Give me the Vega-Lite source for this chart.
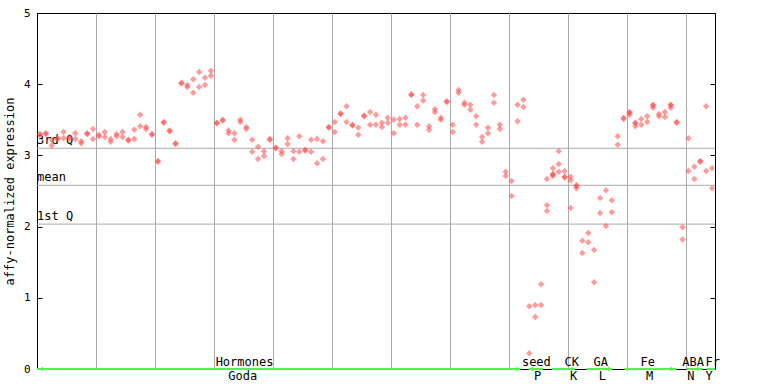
{
  "$schema": "https://vega.github.io/schema/vega-lite/v6.json",
  "width": 678,
  "height": 356,
  "autosize": {"type": "none"},
  "padding": {"left": 37, "top": 13, "right": 53, "bottom": 15},
  "background": "white",
  "config": {
    "view": {"stroke": "black", "strokeWidth": 1},
    "font": "DejaVu Sans Mono",
    "axis": {"labelFont": "DejaVu Sans Mono", "titleFont": "DejaVu Sans Mono", "labelColor": "black", "titleColor": "black"}
  },
  "resolve": {"axis": {"y": "independent"}},
  "datasets": {
    "pts": [
      {"i":0,"v":3.30},{"i":0,"v":3.29},{"i":1,"v":3.31},{"i":1,"v":3.30},{"i":2,"v":3.22},{"i":2,"v":3.14},
      {"i":3,"v":3.24},{"i":3,"v":3.23},{"i":4,"v":3.33},{"i":4,"v":3.24},{"i":5,"v":3.26},{"i":5,"v":3.23},
      {"i":6,"v":3.31},{"i":6,"v":3.23},{"i":7,"v":3.20},{"i":7,"v":3.17},{"i":8,"v":3.31},{"i":8,"v":3.30},
      {"i":9,"v":3.37},{"i":9,"v":3.23},{"i":10,"v":3.29},{"i":10,"v":3.27},{"i":11,"v":3.33},{"i":11,"v":3.26},
      {"i":12,"v":3.23},{"i":12,"v":3.19},{"i":13,"v":3.30},{"i":13,"v":3.27},{"i":14,"v":3.33},{"i":14,"v":3.26},
      {"i":15,"v":3.22},{"i":15,"v":3.21},{"i":16,"v":3.36},{"i":16,"v":3.23},{"i":17,"v":3.57},{"i":17,"v":3.41},
      {"i":18,"v":3.40},{"i":18,"v":3.37},{"i":19,"v":3.30},{"i":19,"v":3.29},{"i":20,"v":2.92},{"i":20,"v":2.91},
      {"i":21,"v":3.47},{"i":21,"v":3.46},{"i":22,"v":3.35},{"i":22,"v":3.34},{"i":23,"v":3.17},{"i":23,"v":3.16},
      {"i":24,"v":4.02},{"i":24,"v":4.01},{"i":25,"v":3.99},{"i":25,"v":3.96},{"i":26,"v":4.07},{"i":26,"v":3.88},
      {"i":27,"v":4.17},{"i":27,"v":3.96},{"i":28,"v":4.09},{"i":28,"v":3.99},{"i":29,"v":4.19},{"i":29,"v":4.12},
      {"i":30,"v":3.46},{"i":30,"v":3.45},{"i":31,"v":3.50},{"i":31,"v":3.49},{"i":32,"v":3.35},{"i":32,"v":3.31},
      {"i":33,"v":3.31},{"i":33,"v":3.22},{"i":34,"v":3.50},{"i":34,"v":3.47},{"i":35,"v":3.40},{"i":35,"v":3.37},
      {"i":36,"v":3.22},{"i":36,"v":3.05},{"i":37,"v":3.12},{"i":37,"v":2.95},{"i":38,"v":3.06},{"i":38,"v":2.99},
      {"i":39,"v":3.23},{"i":39,"v":3.22},{"i":40,"v":3.11},{"i":40,"v":3.10},{"i":41,"v":3.06},{"i":41,"v":3.02},
      {"i":42,"v":3.24},{"i":42,"v":3.16},{"i":43,"v":3.06},{"i":43,"v":2.95},{"i":44,"v":3.27},{"i":44,"v":3.05},
      {"i":45,"v":3.08},{"i":45,"v":3.07},{"i":46,"v":3.22},{"i":46,"v":3.05},{"i":47,"v":3.23},{"i":47,"v":2.89},
      {"i":48,"v":3.20},{"i":48,"v":2.95},{"i":49,"v":3.40},{"i":49,"v":3.39},{"i":50,"v":3.47},{"i":50,"v":3.33},
      {"i":51,"v":3.59},{"i":51,"v":3.58},{"i":52,"v":3.69},{"i":52,"v":3.47},{"i":53,"v":3.43},{"i":53,"v":3.42},
      {"i":54,"v":3.39},{"i":54,"v":3.29},{"i":55,"v":3.56},{"i":55,"v":3.55},{"i":56,"v":3.61},{"i":56,"v":3.43},
      {"i":57,"v":3.57},{"i":57,"v":3.43},{"i":58,"v":3.46},{"i":58,"v":3.40},{"i":59,"v":3.53},{"i":59,"v":3.46},
      {"i":60,"v":3.50},{"i":60,"v":3.31},{"i":61,"v":3.51},{"i":61,"v":3.43},{"i":62,"v":3.53},{"i":62,"v":3.43},
      {"i":63,"v":3.86},{"i":63,"v":3.85},{"i":64,"v":3.69},{"i":64,"v":3.43},{"i":65,"v":3.85},{"i":65,"v":3.77},
      {"i":66,"v":3.41},{"i":66,"v":3.36},{"i":67,"v":3.65},{"i":67,"v":3.61},{"i":68,"v":3.53},{"i":68,"v":3.50},
      {"i":69,"v":3.76},{"i":69,"v":3.75},{"i":70,"v":3.43},{"i":70,"v":3.33},{"i":71,"v":3.92},{"i":71,"v":3.88},
      {"i":72,"v":3.74},{"i":72,"v":3.71},{"i":73,"v":3.71},{"i":73,"v":3.64},{"i":74,"v":3.55},{"i":74,"v":3.43},
      {"i":75,"v":3.26},{"i":75,"v":3.19},{"i":76,"v":3.39},{"i":76,"v":3.31},{"i":77,"v":3.85},{"i":77,"v":3.74},
      {"i":78,"v":3.43},{"i":78,"v":3.37},{"i":79,"v":2.77},{"i":79,"v":2.71},{"i":80,"v":2.64},{"i":80,"v":2.43},
      {"i":81,"v":3.71},{"i":81,"v":3.48},{"i":82,"v":3.78},{"i":82,"v":3.68},{"i":83,"v":0.88},{"i":83,"v":0.22},
      {"i":84,"v":0.90},{"i":84,"v":0.73},{"i":85,"v":1.19},{"i":85,"v":0.90},
      {"i":86,"v":2.67},{"i":86,"v":2.30},{"i":86,"v":2.22},
      {"i":87,"v":2.82},{"i":87,"v":2.74},{"i":87,"v":2.73},{"i":87,"v":2.71},
      {"i":88,"v":3.06},{"i":88,"v":2.88},{"i":88,"v":2.77},
      {"i":89,"v":2.78},{"i":89,"v":2.70},{"i":89,"v":2.69},
      {"i":90,"v":2.70},{"i":90,"v":2.65},{"i":90,"v":2.26},
      {"i":91,"v":2.58},{"i":91,"v":2.57},{"i":91,"v":2.54},
      {"i":92,"v":1.80},{"i":92,"v":1.63},{"i":93,"v":1.91},{"i":93,"v":1.78},{"i":94,"v":1.67},{"i":94,"v":1.22},
      {"i":95,"v":2.40},{"i":95,"v":2.19},{"i":96,"v":2.51},{"i":96,"v":2.01},{"i":97,"v":2.37},{"i":97,"v":2.20},
      {"i":98,"v":3.27},{"i":98,"v":3.15},{"i":99,"v":3.53},{"i":99,"v":3.51},
      {"i":100,"v":3.61},{"i":100,"v":3.60},{"i":100,"v":3.57},
      {"i":101,"v":3.46},{"i":101,"v":3.45},{"i":101,"v":3.41},
      {"i":102,"v":3.51},{"i":102,"v":3.43},{"i":103,"v":3.55},{"i":103,"v":3.47},
      {"i":104,"v":3.71},{"i":104,"v":3.70},{"i":104,"v":3.67},
      {"i":105,"v":3.58},{"i":105,"v":3.55},{"i":106,"v":3.61},{"i":106,"v":3.54},
      {"i":107,"v":3.71},{"i":107,"v":3.70},{"i":107,"v":3.67},
      {"i":108,"v":3.47},{"i":108,"v":3.46},{"i":109,"v":1.99},{"i":109,"v":1.82},
      {"i":110,"v":3.24},{"i":110,"v":2.78},{"i":111,"v":2.84},{"i":111,"v":2.67},
      {"i":112,"v":2.92},{"i":112,"v":2.91},{"i":113,"v":3.69},{"i":113,"v":2.78},
      {"i":114,"v":2.82},{"i":114,"v":2.54}
    ],
    "quart": [
      {"label": "3rd Q", "v": 3.10},
      {"label": "mean", "v": 2.58},
      {"label": "1st Q", "v": 2.035}
    ],
    "segs": [
      {"x": -0.5, "x2": 81.5},
      {"x": 82.9, "x2": 85.3},
      {"x": 86.8, "x2": 90.7},
      {"x": 92.7, "x2": 97.1},
      {"x": 99.2, "x2": 108.0},
      {"x": 109.7, "x2": 112.4},
      {"x": 113.1, "x2": 114.5}
    ],
    "arrows": [
      {"x": 0.2, "dir": "left"},
      {"x": 81.2, "dir": "right"},
      {"x": 83.3, "dir": "left"},
      {"x": 90.4, "dir": "right"},
      {"x": 96.7, "dir": "right"},
      {"x": 99.4, "dir": "left"},
      {"x": 107.3, "dir": "right"},
      {"x": 111.8, "dir": "right"}
    ],
    "groups": [
      {"top": "Hormones", "bot": "Goda", "xt": 34.7, "xb": 34.4},
      {"top": "seed", "bot": "P", "xt": 84.2, "xb": 84.4},
      {"top": "CK", "bot": "K", "xt": 90.2, "xb": 90.5},
      {"top": "GA", "bot": "L", "xt": 95.1, "xb": 95.4},
      {"top": "Fe", "bot": "M", "xt": 103.1, "xb": 103.4},
      {"top": "ABA", "bot": "N", "xt": 110.8, "xb": 110.4},
      {"top": "Fr", "bot": "Y", "xt": 114.1, "xb": 113.5}
    ]
  },
  "layer": [
    {
      "data": {"name": "quart"},
      "mark": {"type": "rule", "color": "#aaaaaa", "strokeWidth": 1},
      "encoding": {
        "y": {"field": "v", "type": "quantitative", "scale": {"domain": [0, 5], "nice": false, "zero": true},
          "axis": {"orient": "right", "offset": -678, "values": [0, 1, 2, 3, 4, 5], "labels": false, "ticks": true, "tickSize": 5, "tickColor": "black", "domain": false, "grid": false, "title": null}}
      }
    },
    {
      "data": {"name": "quart"},
      "mark": {"type": "text", "align": "left", "baseline": "bottom", "dy": -1, "dx": 0, "fontSize": 12, "font": "DejaVu Sans Mono", "color": "black"},
      "encoding": {
        "x": {"datum": -0.5, "type": "quantitative", "scale": {"domain": [-0.5, 114.5], "nice": false, "zero": false},
          "axis": {"values": [9.5, 19.5, 29.5, 39.5, 49.5, 59.5, 69.5, 79.5, 89.5, 99.5, 109.5], "grid": true, "gridColor": "#aaaaaa", "gridWidth": 1, "gridOpacity": 1, "domain": false, "ticks": false, "labels": false, "title": null}},
        "y": {"field": "v", "type": "quantitative",
          "axis": {"orient": "left", "offset": -678, "values": [0, 1, 2, 3, 4, 5], "labels": false, "ticks": true, "tickSize": 5, "tickColor": "black", "domain": false, "grid": false, "title": null}},
        "text": {"field": "label"}
      }
    },
    {
      "data": {"name": "pts"},
      "mark": {"type": "point", "shape": "diamond", "filled": true, "size": 42, "color": "#ff4d4d", "opacity": 0.55},
      "encoding": {
        "x": {"field": "i", "type": "quantitative", "scale": {"domain": [-0.5, 114.5], "nice": false, "zero": false},
          "axis": {"values": [9.5, 19.5, 29.5, 39.5, 49.5, 59.5, 69.5, 79.5, 89.5, 99.5, 109.5], "grid": true, "gridColor": "#aaaaaa", "gridWidth": 1, "gridOpacity": 1, "domain": false, "ticks": false, "labels": false, "title": null}},
        "y": {"field": "v", "type": "quantitative", "scale": {"domain": [0, 5], "nice": false, "zero": true},
          "axis": {"values": [0, 1, 2, 3, 4, 5], "grid": false, "domain": true, "domainColor": "black", "ticks": false, "labelPadding": 7, "labelFontSize": 11, "title": "affy-normalized expression", "titleFontSize": 12, "titleFontWeight": "normal", "titlePadding": 7}}
      }
    },
    {
      "data": {"name": "segs"},
      "mark": {"type": "rule", "color": "#55ee55", "strokeWidth": 2},
      "encoding": {
        "x": {"field": "x", "type": "quantitative",
          "axis": {"values": [9.5, 19.5, 29.5, 39.5, 49.5, 59.5, 69.5, 79.5, 89.5, 99.5, 109.5], "grid": true, "gridColor": "#aaaaaa", "gridWidth": 1, "gridOpacity": 1, "domain": false, "ticks": false, "labels": false, "title": null}},
        "x2": {"field": "x2"},
        "y": {"datum": 0, "type": "quantitative", "axis": null}
      }
    },
    {
      "data": {"name": "arrows"},
      "mark": {"type": "point", "filled": true, "size": 22, "color": "#55ee55", "opacity": 1},
      "encoding": {
        "x": {"field": "x", "type": "quantitative",
          "axis": {"values": [9.5, 19.5, 29.5, 39.5, 49.5, 59.5, 69.5, 79.5, 89.5, 99.5, 109.5], "grid": true, "gridColor": "#aaaaaa", "gridWidth": 1, "gridOpacity": 1, "domain": false, "ticks": false, "labels": false, "title": null}},
        "y": {"datum": 0, "type": "quantitative", "axis": null},
        "shape": {"field": "dir", "type": "nominal", "scale": {"domain": ["left", "right"], "range": ["triangle-left", "triangle-right"]}, "legend": null}
      }
    },
    {
      "data": {"name": "groups"},
      "mark": {"type": "text", "baseline": "alphabetic", "dy": -3, "fontSize": 12, "font": "DejaVu Sans Mono", "color": "black"},
      "encoding": {
        "x": {"field": "xt", "type": "quantitative",
          "axis": {"values": [9.5, 19.5, 29.5, 39.5, 49.5, 59.5, 69.5, 79.5, 89.5, 99.5, 109.5], "grid": true, "gridColor": "#aaaaaa", "gridWidth": 1, "gridOpacity": 1, "domain": false, "ticks": false, "labels": false, "title": null}},
        "y": {"datum": 0, "type": "quantitative", "axis": null},
        "text": {"field": "top"}
      }
    },
    {
      "data": {"name": "groups"},
      "mark": {"type": "text", "baseline": "alphabetic", "dy": 11, "fontSize": 12, "font": "DejaVu Sans Mono", "color": "black"},
      "encoding": {
        "x": {"field": "xb", "type": "quantitative",
          "axis": {"values": [9.5, 19.5, 29.5, 39.5, 49.5, 59.5, 69.5, 79.5, 89.5, 99.5, 109.5], "grid": true, "gridColor": "#aaaaaa", "gridWidth": 1, "gridOpacity": 1, "domain": false, "ticks": false, "labels": false, "title": null}},
        "y": {"datum": 0, "type": "quantitative", "axis": null},
        "text": {"field": "bot"}
      }
    }
  ]
}
